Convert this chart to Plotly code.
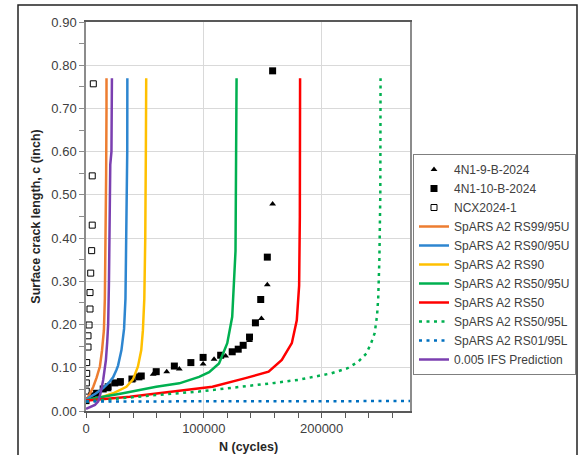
import plotly.graph_objects as go

# Test data: crack length vs cycles
tri_N = [5000, 18800, 28600, 40000, 57000, 68500, 79200, 99400, 108700, 118500, 138800, 148900, 153900, 158400]
tri_c = [0.030, 0.049, 0.062, 0.072, 0.085, 0.091, 0.097, 0.109, 0.120, 0.127, 0.163, 0.214, 0.292, 0.479]

sq_N = [0, 4800, 9000, 14600, 18800, 24400, 29200, 39000, 44900, 46900, 59600, 75000, 89000,
        99400, 114300, 124100, 129200, 133400, 138800, 143800, 148300, 153900, 158400]
sq_c = [0.024, 0.035, 0.041, 0.051, 0.056, 0.065, 0.068, 0.074, 0.079, 0.081, 0.091, 0.104, 0.112,
        0.124, 0.129, 0.137, 0.143, 0.152, 0.171, 0.204, 0.258, 0.356, 0.787]

ncx_N = [6200, 5300, 5300, 4800, 4000, 3400, 3400, 2600, 1700, 1700, 600, 600, 300, 200]
ncx_c = [0.757, 0.544, 0.430, 0.371, 0.319, 0.274, 0.236, 0.199, 0.174, 0.148, 0.112, 0.087, 0.065, 0.046]

# Predicted growth curves
rs99_N = [0, 600, 3400, 6200, 9000, 11800, 13600, 15200, 16000, 16700, 17100, 17400, 17400]
rs99_c = [0.025, 0.027, 0.040, 0.056, 0.077, 0.103, 0.140, 0.187, 0.260, 0.410, 0.550, 0.700, 0.770]

rs90u_N = [0, 1900, 8000, 14600, 20200, 23000, 25800, 27200, 30100, 31400, 32300, 33500, 34300, 35000, 35100]
rs90u_c = [0.024, 0.030, 0.040, 0.053, 0.068, 0.078, 0.095, 0.105, 0.141, 0.170, 0.190, 0.260, 0.400, 0.600, 0.770]

rs90_N = [0, 9000, 23000, 34300, 39900, 44100, 46900, 48300, 49500, 50300, 50800, 51100]
rs90_c = [0.024, 0.028, 0.041, 0.056, 0.073, 0.103, 0.141, 0.187, 0.260, 0.400, 0.600, 0.770]

rs50u_N = [0, 6200, 31400, 59600, 79200, 96000, 104500, 112900, 119900, 124100, 126900, 127500, 127800]
rs50u_c = [0.024, 0.029, 0.041, 0.056, 0.064, 0.079, 0.090, 0.110, 0.157, 0.218, 0.370, 0.550, 0.770]

rs50_N = [0, 3400, 37100, 65100, 80000, 96000, 107300, 135400, 155000, 166200, 174700, 178900, 180900, 181500, 181700]
rs50_c = [0.024, 0.025, 0.033, 0.042, 0.047, 0.052, 0.056, 0.076, 0.091, 0.118, 0.157, 0.210, 0.290, 0.450, 0.770]

rs50l_N = [0, 30000, 60000, 96000, 130000, 160000, 180000, 197000, 208000, 222000, 231000, 238000,
           242000, 245000, 247000, 248000, 249000, 249800, 250000]
rs50l_c = [0.022, 0.030, 0.037, 0.045, 0.055, 0.065, 0.072, 0.082, 0.087, 0.099, 0.114, 0.133,
           0.157, 0.180, 0.220, 0.260, 0.350, 0.500, 0.770]

rs01l_N = [0, 275000]
rs01l_c = [0.022, 0.023]

ifs_N = [0, 4000, 7600, 10400, 12400, 14600, 16900, 18000, 18800, 19500, 20200, 20600, 21600, 21900, 22000]
ifs_c = [0.005, 0.009, 0.014, 0.022, 0.042, 0.072, 0.118, 0.160, 0.200, 0.300, 0.450, 0.570, 0.600, 0.700, 0.770]

FONT = "Liberation Sans"
DOT = "3px,4.5px"

# plot area geometry in pixels
L, R, T, B = 86, 410, 22, 411
W, H = R - L, B - T


def px_x(p):
    return (p - L) / W


def px_y(p):
    return (B - p) / H


fig = go.Figure()

fig.add_trace(go.Scatter(x=tri_N, y=tri_c, mode="markers", name="4N1-9-B-2024",
                         marker=dict(symbol="triangle-up", size=6, color="black")))
fig.add_trace(go.Scatter(x=sq_N, y=sq_c, mode="markers", name="4N1-10-B-2024",
                         marker=dict(symbol="square", size=7, color="black")))
fig.add_trace(go.Scatter(x=ncx_N, y=ncx_c, mode="markers", name="NCX2024-1",
                         marker=dict(symbol="square-open", size=6, color="black", line=dict(width=1))))

curves = [
    (rs99_N, rs99_c, "SpARS A2 RS99/95U", "#ED7D31", "solid"),
    (rs90u_N, rs90u_c, "SpARS A2 RS90/95U", "#2E86D0", "solid"),
    (rs90_N, rs90_c, "SpARS A2 RS90", "#FFC000", "solid"),
    (rs50u_N, rs50u_c, "SpARS A2 RS50/95U", "#00B050", "solid"),
    (rs50_N, rs50_c, "SpARS A2 RS50", "#FF0000", "solid"),
    (rs50l_N, rs50l_c, "SpARS A2 RS50/95L", "#00B050", DOT),
    (rs01l_N, rs01l_c, "SpARS A2 RS01/95L", "#0070C0", DOT),
    (ifs_N, ifs_c, "0.005 IFS Prediction", "#7B3FB0", "solid"),
]
for xs, ys, name, color, dash in curves:
    fig.add_trace(go.Scatter(x=xs, y=ys, mode="lines", name=name,
                             line=dict(color=color, width=2.5, dash=dash)))

# outer chart frame
fig.add_shape(type="rect", xref="paper", yref="paper",
              x0=px_x(18), x1=px_x(577), y0=px_y(470), y1=px_y(5),
              line=dict(color="#222222", width=1.5), layer="below")

fig.add_annotation(text="<b>N (cycles)</b>", xref="paper", yref="paper",
                   x=0.5, y=px_y(447), xanchor="center", yanchor="middle",
                   showarrow=False, font=dict(size=12.5, color="#262626"))

fig.update_layout(
    width=580, height=455,
    margin=dict(l=L, r=580 - R, t=T, b=455 - B, autoexpand=False),
    paper_bgcolor="white", plot_bgcolor="white",
    font=dict(family=FONT, size=13, color="#404040"),
    legend=dict(x=px_x(413), y=px_y(154), xanchor="left", yanchor="top",
                bordercolor="#7F7F7F", borderwidth=1,
                font=dict(size=12, color="#404040"), tracegroupgap=0),
    showlegend=True,
)

fig.update_xaxes(
    range=[0, 275000], dtick=100000, tick0=0, tickformat="d", automargin=False,
    showgrid=True, gridcolor="#D9D9D9", gridwidth=1,
    showline=True, linecolor="#595959", linewidth=1.5, mirror=True,
    ticks="outside", ticklen=5, tickcolor="#595959",
    minor=dict(dtick=20000, ticks="outside", ticklen=5, tickcolor="#595959", showgrid=False),
    zeroline=False,
)
fig.update_yaxes(
    range=[0, 0.9], dtick=0.1, tick0=0, tickformat=".2f", automargin=False,
    showgrid=True, gridcolor="#D9D9D9", gridwidth=1,
    showline=True, linecolor="#8C8C8C", linewidth=1.5, mirror=True,
    ticks="outside", ticklen=5, tickcolor="#8C8C8C",
    minor=dict(dtick=0.05, ticks="outside", ticklen=5, tickcolor="#8C8C8C", showgrid=False),
    zeroline=False,
    title=dict(text="<b>Surface crack length, c (inch)</b>", font=dict(size=12.5, color="#262626"), standoff=8),
)

fig.write_html("out.html")
